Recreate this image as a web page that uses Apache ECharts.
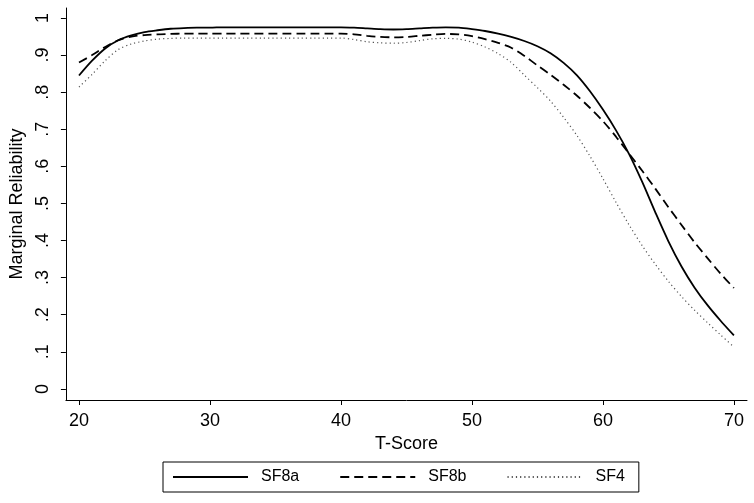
<!DOCTYPE html>
<html>
<head>
<meta charset="utf-8">
<script src="https://cdn.jsdelivr.net/npm/echarts@6/dist/echarts.min.js"></script>
<style>
  html, body { margin: 0; padding: 0; background: #fff; }
  #chart { width: 754px; height: 503px; }
</style>
</head>
<body>
<div id="chart"></div>
<script>
// T-score grid (20..70, step 1)
const tScores = [20, 21, 22, 23, 24, 25, 26, 27, 28, 29, 30, 31, 32, 33, 34, 35, 36, 37, 38, 39, 40,
  41, 42, 43, 44, 45, 46, 47, 48, 49, 50, 51, 52, 53, 54, 55, 56, 57, 58, 59, 60,
  61, 62, 63, 64, 65, 66, 67, 68, 69, 70]

const sf8a = [0.845, 0.885, 0.918, 0.940, 0.953, 0.962, 0.967, 0.971, 0.973, 0.974, 0.974,
  0.975, 0.975, 0.975, 0.975, 0.975, 0.975, 0.975, 0.975, 0.975, 0.975,
  0.974, 0.972, 0.970, 0.969, 0.970, 0.972, 0.974, 0.975, 0.974, 0.970,
  0.965, 0.958, 0.949, 0.938, 0.924, 0.905, 0.879, 0.846, 0.803, 0.753,
  0.697, 0.633, 0.558, 0.476, 0.398, 0.330, 0.273, 0.225, 0.183, 0.144]

const sf8b = [0.880, 0.900, 0.922, 0.940, 0.950, 0.954, 0.956, 0.957, 0.958, 0.958, 0.958,
  0.958, 0.958, 0.958, 0.958, 0.958, 0.958, 0.958, 0.958, 0.958, 0.958,
  0.956, 0.952, 0.949, 0.948, 0.949, 0.952, 0.955, 0.957, 0.956, 0.951,
  0.943, 0.933, 0.920, 0.898, 0.872, 0.847, 0.820, 0.791, 0.758, 0.722,
  0.680, 0.634, 0.588, 0.540, 0.490, 0.442, 0.395, 0.352, 0.310, 0.272]

const sf4 = [0.814, 0.848, 0.885, 0.915, 0.930, 0.938, 0.943, 0.945, 0.946, 0.946, 0.946,
  0.946, 0.946, 0.946, 0.946, 0.946, 0.946, 0.946, 0.946, 0.946, 0.946,
  0.942, 0.936, 0.933, 0.932, 0.934, 0.939, 0.944, 0.945, 0.943, 0.935,
  0.922, 0.904, 0.880, 0.846, 0.812, 0.776, 0.732, 0.684, 0.628, 0.567,
  0.503, 0.442, 0.386, 0.336, 0.290, 0.249, 0.212, 0.178, 0.145, 0.113]

const xTicks = [20, 30, 40, 50, 60, 70]
const yTicks = [0, 0.1, 0.2, 0.3, 0.4, 0.5, 0.6, 0.7, 0.8, 0.9, 1]

const font = '"Liberation Sans", Arial, sans-serif'
const pairs = (vals) => tScores.map((t, i) => [t, vals[i]])

const yLabel = (v) => {
  if (Math.abs(v) < 1e-9) return '0'
  if (Math.abs(v - 1) < 1e-9) return '1'
  return '.' + Math.round(v * 10)
}

const chart = echarts.init(document.getElementById('chart'), null, { renderer: 'canvas' })

chart.setOption({
  animation: false,
  backgroundColor: '#fff',
  grid: { left: 62, right: 7, top: 8, bottom: 103 },
  legend: {
    left: 163,
    top: 462,
    orient: 'horizontal',
    padding: [7, 14, 7, 9],
    itemGap: 40,
    itemWidth: 75,
    itemHeight: 19,
    borderColor: '#000',
    borderWidth: 1,
    itemStyle: { opacity: 0 },
    textStyle: { fontFamily: font, fontSize: 16, color: '#000', padding: [0, 0, 0, 8] },
    data: ['SF8a', 'SF8b', 'SF4'],
  },
  xAxis: {
    type: 'value',
    min: 19,
    max: 71,
    name: 'T-Score',
    nameLocation: 'middle',
    nameGap: 30,
    nameTextStyle: { fontFamily: font, fontSize: 18, color: '#000' },
    splitLine: { show: false },
    axisLine: { show: true, onZero: false, lineStyle: { color: '#000', width: 1 } },
    axisTick: { show: true, length: 5, lineStyle: { color: '#000' }, customValues: xTicks },
    axisLabel: { fontFamily: font, fontSize: 18, color: '#000', margin: 12, customValues: xTicks },
  },
  yAxis: {
    type: 'value',
    min: -0.03,
    max: 1.027,
    name: 'Marginal Reliability',
    nameLocation: 'middle',
    nameGap: 32,
    nameTextStyle: { fontFamily: font, fontSize: 18, color: '#000' },
    splitLine: { show: false },
    axisLine: { show: true, onZero: false, lineStyle: { color: '#000', width: 1 } },
    axisTick: { show: true, length: 5, lineStyle: { color: '#000' }, customValues: yTicks },
    axisLabel: {
      fontFamily: font, fontSize: 18, color: '#000', margin: 14, rotate: 90,
      customValues: yTicks, formatter: yLabel,
    },
  },
  series: [
    {
      name: 'SF8a',
      type: 'line',
      data: pairs(sf8a),
      smooth: 0.3,
      showSymbol: false,
      symbol: 'none',
      lineStyle: { color: '#000', width: 1.8, type: 'solid' },
      itemStyle: { color: '#000' },
    },
    {
      name: 'SF8b',
      type: 'line',
      data: pairs(sf8b),
      smooth: 0.3,
      showSymbol: false,
      symbol: 'none',
      lineStyle: { color: '#000', width: 1.8, type: [9, 5] },
      itemStyle: { color: '#000' },
    },
    {
      name: 'SF4',
      type: 'line',
      data: pairs(sf4),
      smooth: 0.3,
      showSymbol: false,
      symbol: 'none',
      lineStyle: { color: '#555', width: 1.2, type: [1.2, 3] },
      itemStyle: { color: '#555' },
    },
  ],
})
</script>
</body>
</html>
